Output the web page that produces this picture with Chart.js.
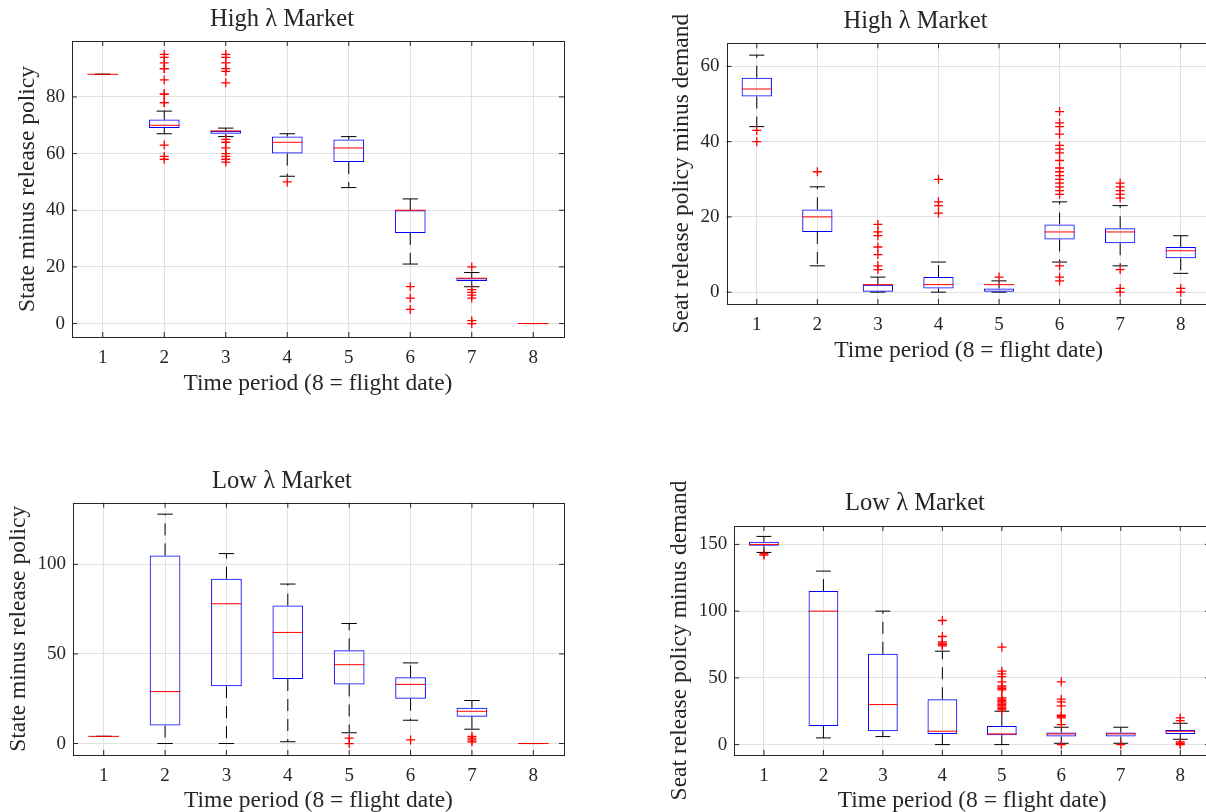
<!DOCTYPE html>
<html>
<head>
<meta charset="utf-8">
<script src="https://cdn.jsdelivr.net/npm/chart.js@4.4.1/dist/chart.umd.min.js"></script>
<style>
  html, body { margin: 0; padding: 0; background: #ffffff; overflow: hidden; width: 1206px; height: 812px; }
  canvas { position: absolute; }
</style>
</head>
<body>
<canvas id="cTL" width="600" height="400" style="left:0px;top:0px"></canvas>
<canvas id="cTR" width="600" height="370" style="left:620px;top:0px"></canvas>
<canvas id="cBL" width="600" height="380" style="left:0px;top:440px"></canvas>
<canvas id="cBR" width="600" height="380" style="left:620px;top:440px"></canvas>
<script>
// ---------- categories ----------
const periods = [1, 2, 3, 4, 5, 6, 7, 8];
const periodLabels = ['1', '2', '3', '4', '5', '6', '7', '8'];

// ---------- High λ market: state minus release policy ----------
const hiStateLow  = [88, 67, 66, 52, 48, 21, 13, 0];
const hiStateQ1   = [88, 69, 67, 60, 57, 32, 15, 0];
const hiStateMed  = [88, 70, 68, 64, 62, 40, 16, 0];
const hiStateQ3   = [88, 72, 68, 66, 65, 40, 16, 0];
const hiStateHigh = [88, 75, 69, 67, 66, 44, 18, 0];
const hiStateOut  = [[], [58, 59, 63, 78, 78, 81, 81, 86, 90, 90, 92, 94, 95],
                     [57, 58, 59, 60, 62, 64, 65, 85, 89, 90, 92, 94, 95],
                     [50], [], [5, 9, 13], [0, 1, 9, 10, 11, 12, 20], []];
const hiStateTicks = [0, 20, 40, 60, 80];

// ---------- High λ market: seat release policy minus demand ----------
const hiSeatLow  = [44, 7, 0, 0, 0, 8, 7, 5];
const hiSeatQ1   = [52, 16, 0, 1, 0, 14, 13, 9];
const hiSeatMed  = [54, 20, 2, 2, 2, 16, 16, 11];
const hiSeatQ3   = [57, 22, 2, 4, 1, 18, 17, 12];
const hiSeatHigh = [63, 28, 4, 8, 3, 24, 23, 15];
const hiSeatOut  = [[40, 43], [32], [6, 7, 10, 12, 15, 16, 18], [21, 23, 24, 30], [4],
                    [3, 4, 7, 26, 27, 28, 29, 30, 31, 32, 33, 35, 37, 38, 39, 42, 44, 45, 48],
                    [0, 1, 6, 25, 26, 27, 28, 29], [0, 1]];
const hiSeatTicks = [0, 20, 40, 60];

// ---------- Low λ market: state minus release policy ----------
const loStateLow  = [4, 0, 0, 1, 6, 13, 8, 0];
const loStateQ1   = [4, 10, 32, 36, 33, 25, 15, 0];
const loStateMed  = [4, 29, 78, 62, 44, 33, 18, 0];
const loStateQ3   = [4, 105, 92, 77, 52, 37, 20, 0];
const loStateHigh = [4, 128, 106, 89, 67, 45, 24, 0];
const loStateOut  = [[], [], [], [], [0, 3], [2], [1, 2, 3, 4], []];
const loStateTicks = [0, 50, 100];

// ---------- Low λ market: seat release policy minus demand ----------
const loSeatLow  = [144, 5, 6, 0, 0, 1, 1, 4];
const loSeatQ1   = [149, 14, 10, 8, 7, 6, 6, 8];
const loSeatMed  = [150, 100, 30, 10, 8, 8, 8, 10];
const loSeatQ3   = [152, 115, 68, 34, 14, 9, 9, 11];
const loSeatHigh = [156, 130, 100, 70, 25, 13, 13, 16];
const loSeatOut  = [[142, 143], [], [], [74, 75, 76, 77, 81, 93],
                    [26, 27, 28, 29, 30, 31, 32, 33, 34, 35, 41, 42, 43, 44, 47, 51, 53, 55, 73],
                    [0, 15, 20, 21, 22, 29, 32, 34, 47], [0], [0, 1, 2, 18, 20]];
const loSeatTicks = [0, 50, 100, 150];

// ---------- styles ----------
const FONT = "'Liberation Serif', 'Times New Roman', serif";
const TEXT = '#262626';
const AXIS = '#262626';
const GRID = '#e2e2e2';
const BLUE = '#0000ff';
const RED = '#ff0000';
const TICKLEN = 5;
const TITLE_SIZE = 24.5;
const LABEL_SIZE = 23.5;
const TICK_SIZE = 19;
const xTitle = 'Time period (8 = flight date)';

Chart.defaults.font.family = FONT;
Chart.defaults.color = TEXT;

const framePlugin = {
  id: 'frame',
  afterDatasetsDraw(chart) {
    const { ctx, chartArea: a, scales: { x, y } } = chart;
    ctx.save();
    ctx.strokeStyle = AXIS;
    ctx.lineWidth = 1;
    ctx.beginPath();
    x.ticks.forEach(t => {
      const px = x.getPixelForValue(t.value);
      ctx.moveTo(px, a.bottom); ctx.lineTo(px, a.bottom - TICKLEN);
      ctx.moveTo(px, a.top); ctx.lineTo(px, a.top + TICKLEN);
    });
    y.ticks.forEach(t => {
      const py = y.getPixelForValue(t.value);
      ctx.moveTo(a.left, py); ctx.lineTo(a.left + TICKLEN, py);
      ctx.moveTo(a.right, py); ctx.lineTo(a.right - TICKLEN, py);
    });
    ctx.stroke();
    ctx.strokeRect(Math.round(a.left) + 0.5, Math.round(a.top) + 0.5,
                   Math.round(a.right) - Math.round(a.left), Math.round(a.bottom) - Math.round(a.top));
    ctx.restore();
  }
};

function halfWidth(chart, units) {
  const s = chart.scales.x;
  return Math.abs(s.getPixelForValue(units) - s.getPixelForValue(0));
}

function makePanel(id, p, L) {
  const boxData = periods.map((x, i) => ({ x, y: [p.q1[i], p.q3[i]] }));
  const medData = periods.map((x, i) => ({ x, y: p.med[i] }));
  const capData = periods.flatMap((x, i) => [{ x, y: p.high[i] }, { x, y: p.low[i] }]);
  const whiskData = periods.flatMap((x, i) => [
    { x, y: p.q3[i] }, { x, y: p.high[i] }, { x, y: null },
    { x, y: p.q1[i] }, { x, y: p.low[i] }, { x, y: null }
  ]);
  const outData = periods.flatMap((x, i) => p.out[i].map(v => ({ x, y: v })));

  new Chart(document.getElementById(id), {
    type: 'scatter',
    data: {
      datasets: [
        { type: 'scatter', data: outData, pointStyle: 'cross', pointRadius: 4.5,
          pointBorderColor: RED, pointBackgroundColor: RED, pointBorderWidth: 1.3 },
        { type: 'scatter', data: medData, pointStyle: 'line',
          pointRadius: ctx => halfWidth(ctx.chart, 0.25),
          pointBorderColor: RED, pointBorderWidth: 1 },
        { type: 'bar', data: boxData, backgroundColor: 'rgba(0,0,0,0)', borderColor: BLUE,
          borderWidth: 1, borderSkipped: false, barPercentage: 0.5, categoryPercentage: 1, grouped: false },
        { type: 'scatter', data: capData, pointStyle: 'line',
          pointRadius: ctx => halfWidth(ctx.chart, 0.125),
          pointBorderColor: '#000000', pointBorderWidth: 1 },
        { type: 'line', data: whiskData, borderColor: '#000000', borderWidth: 1,
          borderDash: [12, 8], pointRadius: 0, spanGaps: false, fill: false, tension: 0 }
      ]
    },
    options: {
      responsive: false,
      animation: false,
      events: [],
      layout: { padding: { top: 0, left: 0, bottom: 0, right: L.padRight } },
      plugins: {
        legend: { display: false },
        tooltip: { enabled: false },
        title: {
          display: true, text: p.title, color: TEXT,
          font: { family: FONT, size: TITLE_SIZE, weight: 'normal' },
          padding: { top: L.titleTop, bottom: L.titleBottom }
        }
      },
      scales: {
        x: {
          type: 'linear', min: 0.5, max: 8.5, bounds: 'data', offset: false,
          afterBuildTicks: s => { s.ticks = periods.map(v => ({ value: v })); },
          afterFit: s => { s.height = L.xHeight; },
          ticks: {
            callback: v => periodLabels[periods.indexOf(v)],
            padding: 9.5, color: TEXT, font: { family: FONT, size: TICK_SIZE },
            maxRotation: 0, autoSkip: false
          },
          grid: { color: GRID, drawTicks: false, offset: false, lineWidth: 1 },
          border: { display: false },
          title: {
            display: true, text: xTitle, color: TEXT,
            font: { family: FONT, size: LABEL_SIZE, weight: 'normal' },
            padding: { top: 0, bottom: L.xTitleBottom }
          }
        },
        y: {
          type: 'linear', min: p.yMin, max: p.yMax, bounds: 'data',
          afterBuildTicks: s => { s.ticks = p.ticks.map(v => ({ value: v })); },
          afterFit: s => { s.width = L.yWidth; },
          ticks: { callback: v => String(v), padding: 7, color: TEXT, font: { family: FONT, size: TICK_SIZE } },
          grid: { color: GRID, drawTicks: false, lineWidth: 1 },
          border: { display: false },
          title: {
            display: true, text: p.yLabel, color: TEXT,
            font: { family: FONT, size: LABEL_SIZE, weight: 'normal' },
            padding: { top: L.yTitleTop, bottom: 0 }
          }
        }
      }
    },
    plugins: [framePlugin]
  });
}

makePanel('cTL', {
  title: 'High λ Market', yLabel: 'State minus release policy',
  low: hiStateLow, q1: hiStateQ1, med: hiStateMed, q3: hiStateQ3, high: hiStateHigh, out: hiStateOut,
  ticks: hiStateTicks, yMin: -4.75, yMax: 99.75
}, { padRight: 36, yWidth: 72, xHeight: 63, titleTop: 5.3, titleBottom: 6.3, yTitleTop: 14.2, xTitleBottom: 1.9 });

makePanel('cTR', {
  title: 'High λ Market', yLabel: 'Seat release policy minus demand',
  low: hiSeatLow, q1: hiSeatQ1, med: hiSeatMed, q3: hiSeatQ3, high: hiSeatHigh, out: hiSeatOut,
  ticks: hiSeatTicks, yMin: -3.15, yMax: 66.15
}, { padRight: 9, yWidth: 106.5, xHeight: 66, titleTop: 7.3, titleBottom: 6.6, yTitleTop: 47.6, xTitleBottom: 4.6 });

makePanel('cBL', {
  title: 'Low λ Market', yLabel: 'State minus release policy',
  low: loStateLow, q1: loStateQ1, med: loStateMed, q3: loStateQ3, high: loStateHigh, out: loStateOut,
  ticks: loStateTicks, yMin: -6.4, yMax: 134.4
}, { padRight: 36, yWidth: 73, xHeight: 65, titleTop: 26.6, titleBottom: 6.7, yTitleTop: 4.4, xTitleBottom: 4.6 });

makePanel('cBR', {
  title: 'Low λ Market', yLabel: 'Seat release policy minus demand',
  low: loSeatLow, q1: loSeatQ1, med: loSeatMed, q3: loSeatQ3, high: loSeatHigh, out: loSeatOut,
  ticks: loSeatTicks, yMin: -7.8, yMax: 163.8
}, { padRight: 10, yWidth: 114.2, xHeight: 65, titleTop: 48.6, titleBottom: 8, yTitleTop: 45.9, xTitleBottom: 4.6 });
</script>
</body>
</html>
